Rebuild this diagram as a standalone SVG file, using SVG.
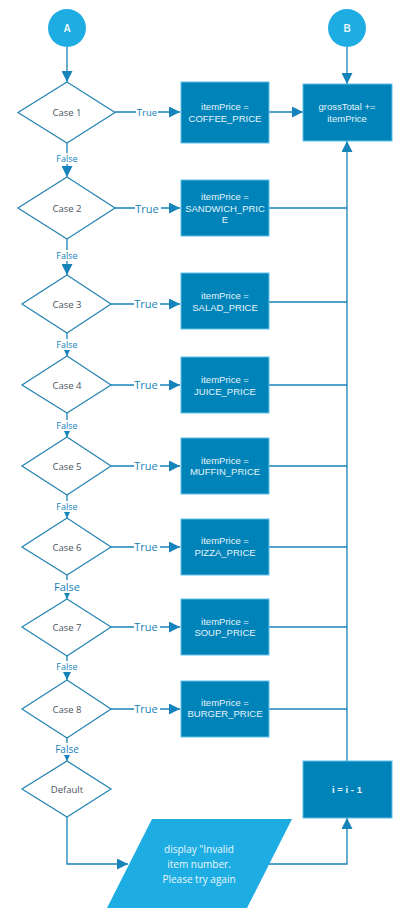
<svg xmlns="http://www.w3.org/2000/svg" width="415" height="923" viewBox="0 0 415 923">
<style>
.bg{fill:#fff}
.circ{fill:#1eade2}
.ctext{font-family:"Liberation Sans",Arial,sans-serif;font-size:10px;font-weight:bold;fill:#e8f6fc;text-anchor:middle}
.dia{fill:#fff;stroke:#2a86b3;stroke-width:1.3}
.dtext{font-family:"Open Sans","Liberation Sans",sans-serif;font-size:9.5px;fill:#4a5560;text-anchor:middle}
.box{fill:#0083b9;stroke:#5fc0e6;stroke-width:1}
.btext{font-family:"Liberation Sans",Arial,sans-serif;font-size:9.5px;fill:#e6f4fa;text-anchor:middle}
.para{fill:#1eade2}
.ptext{font-family:"Open Sans","Liberation Sans",sans-serif;font-size:10px;fill:#e8f6fc;text-anchor:middle}
.ln{fill:none;stroke:#1683bb;stroke-width:1.3}
.lbl{font-family:"Open Sans","Liberation Sans",sans-serif;fill:#1683bb;text-anchor:middle}
.lblbg{fill:#fff}
</style>
<defs>
<marker id="ah" viewBox="0 0 10 10" refX="10" refY="5" markerWidth="11" markerHeight="11" markerUnits="userSpaceOnUse" orient="auto">
<path d="M0,0 L10,5 L0,10 z" fill="#1683bb"/>
</marker>
</defs>
<rect class="bg" x="0" y="0" width="415" height="923"/>

<g id="connectors">
<!-- A to case1 -->
<path class="ln" d="M67,47 V82" marker-end="url(#ah)"/>
<!-- B to grossTotal -->
<path class="ln" d="M347,47 V84" marker-end="url(#ah)"/>
<!-- True arrows -->
<path class="ln" d="M115,112 H180" marker-end="url(#ah)"/>
<path class="ln" d="M115,208 H180" marker-end="url(#ah)"/>
<path class="ln" d="M111,304 H180" marker-end="url(#ah)"/>
<path class="ln" d="M111,385 H180" marker-end="url(#ah)"/>
<path class="ln" d="M111,466 H180" marker-end="url(#ah)"/>
<path class="ln" d="M111,547 H180" marker-end="url(#ah)"/>
<path class="ln" d="M111,627 H180" marker-end="url(#ah)"/>
<path class="ln" d="M111,709 H180" marker-end="url(#ah)"/>
<!-- coffee to gross -->
<path class="ln" d="M269,112 H303" marker-end="url(#ah)"/>
<!-- box joins -->
<path class="ln" d="M269,208 H347"/>
<path class="ln" d="M269,302 H347"/>
<path class="ln" d="M269,385 H347"/>
<path class="ln" d="M269,466 H347"/>
<path class="ln" d="M269,547 H347"/>
<path class="ln" d="M269,627 H347"/>
<path class="ln" d="M269,709 H347"/>
<!-- i=i-1 up to gross -->
<path class="ln" d="M347,761 V141" marker-end="url(#ah)"/>
<!-- False arrows -->
<path class="ln" d="M67,143 V177" marker-end="url(#ah)"/>
<path class="ln" d="M67,239 V275" marker-end="url(#ah)"/>
<path class="ln" d="M67,333 V356" marker-end="url(#ah)"/>
<path class="ln" d="M67,413 V437" marker-end="url(#ah)"/>
<path class="ln" d="M67,495 V518" marker-end="url(#ah)"/>
<path class="ln" d="M67,575 V599" marker-end="url(#ah)"/>
<path class="ln" d="M67,656 V680" marker-end="url(#ah)"/>
<path class="ln" d="M67,738 V761" marker-end="url(#ah)"/>
<!-- default to display -->
<path class="ln" d="M67,817 V864 H128" marker-end="url(#ah)"/>
<!-- display to i=i-1 -->
<path class="ln" d="M269,864 H347 V818" marker-end="url(#ah)"/>
<!-- labels -->
<rect class="lblbg" x="136" y="106" width="22" height="11"/>
<text class="lbl" x="147" y="116" font-size="9.5">True</text>
<rect class="lblbg" x="135" y="201" width="26" height="14"/>
<text class="lbl" x="147" y="212.5" font-size="11">True</text>
<rect class="lblbg" x="134" y="297" width="26" height="14"/>
<text class="lbl" x="146" y="308" font-size="11">True</text>
<rect class="lblbg" x="134" y="378" width="26" height="14"/>
<text class="lbl" x="146" y="389" font-size="11">True</text>
<rect class="lblbg" x="134" y="459" width="26" height="14"/>
<text class="lbl" x="146" y="470" font-size="11">True</text>
<rect class="lblbg" x="134" y="540" width="26" height="14"/>
<text class="lbl" x="146" y="551" font-size="11">True</text>
<rect class="lblbg" x="134" y="620" width="26" height="14"/>
<text class="lbl" x="146" y="631" font-size="11">True</text>
<rect class="lblbg" x="134" y="702" width="26" height="14"/>
<text class="lbl" x="146" y="713" font-size="11">True</text>
<rect class="lblbg" x="55" y="153" width="24" height="11"/>
<text class="lbl" x="67" y="162" font-size="9">False</text>
<rect class="lblbg" x="55" y="250" width="24" height="11"/>
<text class="lbl" x="67" y="259" font-size="9">False</text>
<rect class="lblbg" x="55" y="339" width="24" height="11"/>
<text class="lbl" x="67" y="348" font-size="9">False</text>
<rect class="lblbg" x="55" y="420" width="24" height="11"/>
<text class="lbl" x="67" y="429" font-size="9">False</text>
<rect class="lblbg" x="55" y="501" width="24" height="11"/>
<text class="lbl" x="67" y="510" font-size="9">False</text>
<rect class="lblbg" x="52" y="580" width="30" height="13"/>
<text class="lbl" x="67" y="591" font-size="11">False</text>
<rect class="lblbg" x="55" y="661" width="24" height="11"/>
<text class="lbl" x="67" y="670" font-size="9">False</text>
<rect class="lblbg" x="53" y="743" width="28" height="12"/>
<text class="lbl" x="67" y="753" font-size="10">False</text>
</g>

<g id="A"><circle class="circ" cx="67" cy="28" r="19"/><text class="ctext" x="67" y="32">A</text></g>
<g id="B"><circle class="circ" cx="347" cy="28" r="19"/><text class="ctext" x="347" y="32">B</text></g>

<g id="case1"><polygon class="dia" points="67,82 115,112.5 67,143 18,112.5"/><text class="dtext" x="67" y="116">Case 1</text></g>
<g id="case2"><polygon class="dia" points="67,177 115,208 67,239 18,208"/><text class="dtext" x="67" y="211.5">Case 2</text></g>
<g id="case3"><polygon class="dia" points="67,275 111,304 67,333 22,304"/><text class="dtext" x="67" y="307.5">Case 3</text></g>
<g id="case4"><polygon class="dia" points="67,356 111,385 67,413 22,385"/><text class="dtext" x="67" y="388.5">Case 4</text></g>
<g id="case5"><polygon class="dia" points="67,437 111,466 67,495 22,466"/><text class="dtext" x="67" y="469.5">Case 5</text></g>
<g id="case6"><polygon class="dia" points="67,518 111,547 67,575 22,547"/><text class="dtext" x="67" y="550.5">Case 6</text></g>
<g id="case7"><polygon class="dia" points="67,599 111,627 67,656 22,627"/><text class="dtext" x="67" y="630.5">Case 7</text></g>
<g id="case8"><polygon class="dia" points="67,680 111,709 67,738 22,709"/><text class="dtext" x="67" y="712.5">Case 8</text></g>
<g id="default"><polygon class="dia" points="67,761 111,789 67,817 22,789"/><text class="dtext" x="67" y="792.5" font-size="10">Default</text></g>

<g id="coffee"><rect class="box" x="181" y="82" width="88" height="61"/><text class="btext" x="225" y="110">itemPrice =</text><text class="btext" x="225" y="121.5">COFFEE_PRICE</text></g>
<g id="sandwich"><rect class="box" x="181" y="180" width="88" height="56"/><text class="btext" x="225" y="200">itemPrice =</text><text class="btext" x="225" y="211.5">SANDWICH_PRIC</text><text class="btext" x="225" y="222.5">E</text></g>
<g id="salad"><rect class="box" x="181" y="273" width="88" height="56"/><text class="btext" x="225" y="299">itemPrice =</text><text class="btext" x="225" y="310.5">SALAD_PRICE</text></g>
<g id="juice"><rect class="box" x="181" y="357" width="88" height="56"/><text class="btext" x="225" y="383">itemPrice =</text><text class="btext" x="225" y="394.5">JUICE_PRICE</text></g>
<g id="muffin"><rect class="box" x="181" y="438" width="88" height="56"/><text class="btext" x="225" y="463.5">itemPrice =</text><text class="btext" x="225" y="475">MUFFIN_PRICE</text></g>
<g id="pizza"><rect class="box" x="181" y="519" width="88" height="56"/><text class="btext" x="225" y="544">itemPrice =</text><text class="btext" x="225" y="555.5">PIZZA_PRICE</text></g>
<g id="soup"><rect class="box" x="181" y="599" width="88" height="56"/><text class="btext" x="225" y="624.5">itemPrice =</text><text class="btext" x="225" y="636">SOUP_PRICE</text></g>
<g id="burger"><rect class="box" x="181" y="681" width="88" height="56"/><text class="btext" x="225" y="705.5">itemPrice =</text><text class="btext" x="225" y="717">BURGER_PRICE</text></g>

<g id="grossTotal"><rect class="box" x="303" y="84" width="89" height="57"/><text class="btext" x="347" y="110">grossTotal +=</text><text class="btext" x="347" y="121.5">itemPrice</text></g>
<g id="decrement"><rect class="box" x="303" y="761" width="89" height="57"/><text class="btext" x="347" y="792.5" font-weight="bold">i = i - 1</text></g>

<g id="display"><polygon class="para" points="152,819 292,819 247,908 107,908"/><text class="ptext" x="199" y="852.5">display "Invalid</text><text class="ptext" x="199" y="867.5">item number.</text><text class="ptext" x="199" y="882.5">Please try again</text></g>
</svg>
